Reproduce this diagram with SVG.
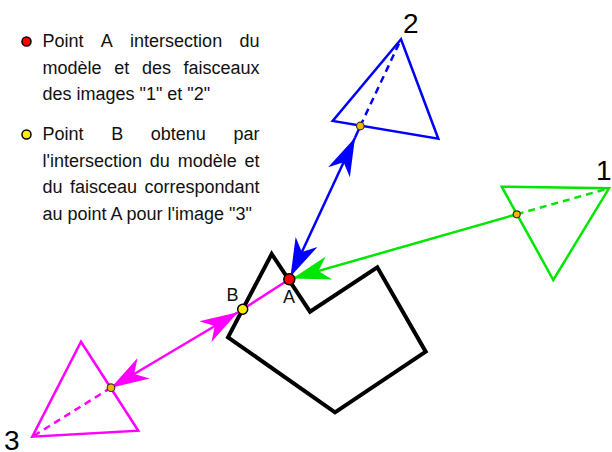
<svg xmlns="http://www.w3.org/2000/svg" width="612" height="452" viewBox="0 0 612 452">
<style>
.t{font-family:"Liberation Sans",Arial,sans-serif;font-size:18px;fill:#111}
.lbl{font-family:"Liberation Sans",Arial,sans-serif;font-size:28px;fill:#000}
.tri{fill:none;stroke-width:2.5;stroke-linejoin:miter}
.dash{fill:none;stroke-width:2.5;stroke-dasharray:7,5}
.conn{fill:none;stroke-width:2.5}
.sdot{fill:#f5b400;stroke:#333;stroke-width:1.2}
</style>
<defs>
<marker id="hb" markerUnits="userSpaceOnUse" viewBox="0 0 38 26" refX="38" refY="13" markerWidth="38" markerHeight="26" orient="auto-start-reverse"><path d="M38,13 L0,1 L11,13 L0,25 Z" fill="#0000ff"/></marker>
<marker id="hg" markerUnits="userSpaceOnUse" viewBox="0 0 38 26" refX="38" refY="13" markerWidth="38" markerHeight="26" orient="auto-start-reverse"><path d="M38,13 L0,1 L11,13 L0,25 Z" fill="#00e600"/></marker>
<marker id="hm" markerUnits="userSpaceOnUse" viewBox="0 0 38 26" refX="38" refY="13" markerWidth="38" markerHeight="26" orient="auto-start-reverse"><path d="M38,13 L0,1 L11,13 L0,25 Z" fill="#ff00ff"/></marker>
</defs>

<g id="legend">
<circle cx="26.5" cy="41.5" r="4.5" fill="#ff0000" stroke="#000" stroke-width="1.5"/>
<text class="t" y="47"><tspan x="42.5">Point</tspan><tspan x="100.8">A</tspan><tspan x="130.1">intersection</tspan><tspan x="239.4">du</tspan></text>
<text class="t" y="73.5"><tspan x="42.5">modèle</tspan><tspan x="114.2">et</tspan><tspan x="141.9">des</tspan><tspan x="183.5">faisceaux</tspan></text>
<text class="t" x="42.5" y="100">des images "1" et "2"</text>
<circle cx="26.5" cy="134.5" r="4.5" fill="#ffee00" stroke="#000" stroke-width="1.5"/>
<text class="t" y="140"><tspan x="42.5">Point</tspan><tspan x="111.2">B</tspan><tspan x="150.8">obtenu</tspan><tspan x="233.5">par</tspan></text>
<text class="t" y="166.5"><tspan x="42.5">l'intersection</tspan><tspan x="149.8">du</tspan><tspan x="177.7">modèle</tspan><tspan x="244.5">et</tspan></text>
<text class="t" y="193"><tspan x="42.5">du</tspan><tspan x="69.9">faisceau</tspan><tspan x="144.4">correspondant</tspan></text>
<text class="t" x="42.5" y="219.5">au point A pour l'image "3"</text>
</g>

<g id="model">
<polygon points="271.7,254 310,311.7 377.3,267.3 425.7,351.7 335,412.3 228,337.3" fill="none" stroke="#000" stroke-width="4"/>
</g>

<g id="image2">
<polygon class="tri" stroke="#0000ff" points="401,39.3 332.7,121 438.3,138.7"/>
<line class="dash" stroke="#0000ff" x1="360.3" y1="126" x2="401" y2="39.3"/>
<text class="lbl" x="403" y="33">2</text>
</g>

<g id="image1">
<polygon class="tri" stroke="#00e600" points="501.7,186.7 609,188.3 553.3,280"/>
<line class="dash" stroke="#00e600" x1="516.7" y1="214.3" x2="609" y2="188.3"/>
<text class="lbl" x="596" y="180">1</text>
</g>

<g id="image3">
<polygon class="tri" stroke="#ff00ff" points="81,341.7 138.3,430.7 32.3,436.7"/>
<line class="dash" stroke="#ff00ff" x1="111" y1="387.7" x2="32.3" y2="436.7"/>
<text class="lbl" x="4" y="450">3</text>
</g>

<g id="connectors">
<line class="conn" stroke="#0000ff" x1="360.3" y1="126" x2="355" y2="137.8"/>
<path class="conn" stroke="#0000ff" d="M355,137.8 L290.5,276.5" marker-start="url(#hb)" marker-end="url(#hb)"/>
<path class="conn" stroke="#00e600" d="M516.7,214.3 L292.5,278.4" marker-end="url(#hg)"/>
<path class="conn" stroke="#ff00ff" stroke-width="2" d="M242.7,309.3 L289.3,279.3"/>
<path class="conn" stroke="#ff00ff" d="M111,387.7 L238,312.2" marker-start="url(#hm)" marker-end="url(#hm)"/>
</g>

<g id="pointA">
<circle cx="289.3" cy="279.3" r="5.5" fill="#ff0000" stroke="#000" stroke-width="1.5"/>
<text class="t" x="289" y="303" text-anchor="middle">A</text>
</g>
<g id="pointB">
<circle cx="242.7" cy="309.3" r="5" fill="#ffee00" stroke="#000" stroke-width="1.5"/>
<text class="t" x="226.5" y="301">B</text>
</g>
<g id="dots">
<circle class="sdot" cx="360.3" cy="126" r="3.8"/>
<circle class="sdot" cx="516.7" cy="214.3" r="3.5"/>
<circle class="sdot" cx="111" cy="387.7" r="3.8"/>
</g>
</svg>
